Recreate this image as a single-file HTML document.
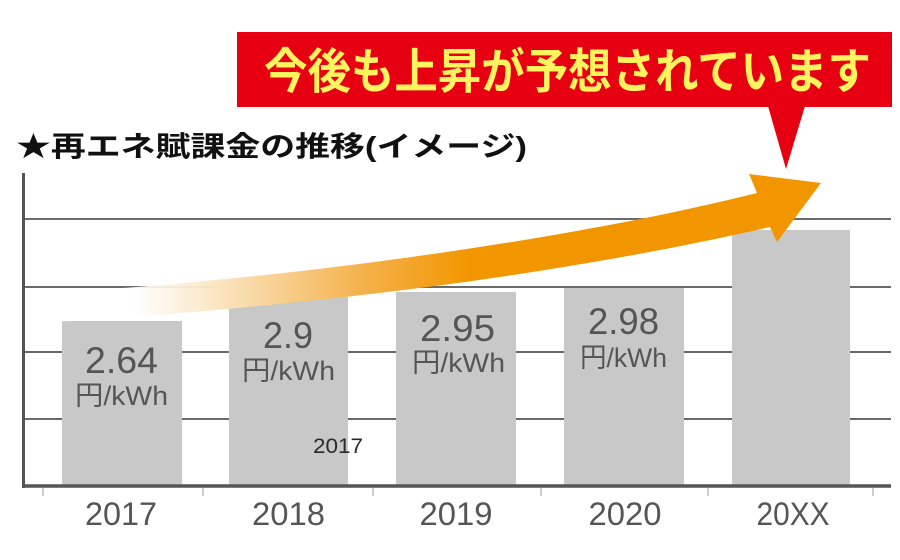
<!DOCTYPE html>
<html>
<head>
<meta charset="utf-8">
<style>
html,body{margin:0;padding:0;background:#fff;}
svg{display:block;}
</style>
</head>
<body>
<svg width="900" height="560" viewBox="0 0 900 560" xmlns="http://www.w3.org/2000/svg">
<defs>
<linearGradient id="ag" gradientUnits="userSpaceOnUse" x1="60" y1="0" x2="470" y2="0">
<stop offset="0" stop-color="#ffffff" stop-opacity="0"/>
<stop offset="0.18" stop-color="#ffffff" stop-opacity="0.9"/>
<stop offset="0.45" stop-color="#f9dcad"/>
<stop offset="0.75" stop-color="#f4b048"/>
<stop offset="1" stop-color="#f29600"/>
</linearGradient>
</defs>
<rect width="900" height="560" fill="#fff"/>

<!-- gridlines -->
<g stroke="#6a6a6a" stroke-width="2">
<line x1="24" y1="219" x2="891" y2="219"/>
<line x1="24" y1="287" x2="891" y2="287"/>
<line x1="24" y1="352" x2="891" y2="352"/>
<line x1="24" y1="419" x2="891" y2="419"/>
</g>

<!-- bars -->
<g fill="#c8c8c9">
<rect x="62" y="321" width="120" height="165"/>
<rect x="229" y="297" width="119" height="189"/>
<rect x="396" y="292" width="120" height="194"/>
<rect x="564" y="288" width="120" height="198"/>
<rect x="732" y="230" width="118" height="256"/>
</g>

<!-- axes -->
<line x1="23.5" y1="173" x2="23.5" y2="488" stroke="#555" stroke-width="3"/>
<line x1="22" y1="486" x2="891" y2="486" stroke="#555" stroke-width="3.5"/>
<g stroke="#999" stroke-width="1">
<line x1="43" y1="488" x2="43" y2="496"/>
<line x1="203" y1="488" x2="203" y2="496"/>
<line x1="373" y1="488" x2="373" y2="496"/>
<line x1="541" y1="488" x2="541" y2="496"/>
<line x1="708" y1="488" x2="708" y2="496"/>
<line x1="873" y1="488" x2="873" y2="496"/>
</g>

<!-- arrow -->
<path d="M 60,292 C 250,282 550,245 757,193 L 749,174 L 821,183 L 777,242 L 770,227 C 560,275 320,305 60,322 Z" fill="url(#ag)"/>

<!-- bar values -->
<g font-family="'Liberation Sans','Noto Sans CJK JP',sans-serif" fill="#555" text-anchor="middle">
<text x="121.5" y="373" font-size="37" textLength="73" lengthAdjust="spacingAndGlyphs">2.64</text>
<text x="121.5" y="405" font-size="27" textLength="93" lengthAdjust="spacingAndGlyphs">円/kWh</text>
<text x="288" y="348" font-size="37" textLength="50" lengthAdjust="spacingAndGlyphs">2.9</text>
<text x="288.5" y="380" font-size="27" textLength="93" lengthAdjust="spacingAndGlyphs">円/kWh</text>
<text x="457.5" y="341" font-size="37" textLength="75" lengthAdjust="spacingAndGlyphs">2.95</text>
<text x="458.5" y="372" font-size="27" textLength="93" lengthAdjust="spacingAndGlyphs">円/kWh</text>
<text x="623.5" y="334" font-size="37" textLength="71" lengthAdjust="spacingAndGlyphs">2.98</text>
<text x="623.5" y="367" font-size="27" textLength="87" lengthAdjust="spacingAndGlyphs">円/kWh</text>
</g>

<!-- small stray label -->
<text x="313" y="453" font-family="'Liberation Sans',sans-serif" font-size="21" fill="#2a2a2a" textLength="50" lengthAdjust="spacingAndGlyphs">2017</text>

<!-- x labels -->
<g font-family="'Liberation Sans',sans-serif" font-size="32" fill="#555" text-anchor="middle">
<text x="121" y="525" textLength="72" lengthAdjust="spacingAndGlyphs">2017</text>
<text x="288.5" y="525" textLength="73" lengthAdjust="spacingAndGlyphs">2018</text>
<text x="456" y="525" textLength="73" lengthAdjust="spacingAndGlyphs">2019</text>
<text x="625" y="525" textLength="73" lengthAdjust="spacingAndGlyphs">2020</text>
<text x="793" y="525" textLength="73" lengthAdjust="spacingAndGlyphs">20XX</text>
</g>

<!-- title -->
<text x="16" y="156" font-family="'Liberation Sans','Noto Sans CJK JP',sans-serif" font-size="28" font-weight="bold" fill="#111" textLength="511" lengthAdjust="spacingAndGlyphs">★再エネ賦課金の推移(イメージ)</text>

<!-- red callout -->
<rect x="237" y="32" width="655" height="75" fill="#e60012"/>
<polygon points="768,106 805,106 786,169" fill="#e60012"/>
<text x="264" y="88" font-family="'Liberation Sans','Noto Sans CJK JP',sans-serif" font-size="48" font-weight="bold" fill="#fff35e" textLength="607" lengthAdjust="spacingAndGlyphs">今後も上昇が予想されています</text>
</svg>
</body>
</html>
